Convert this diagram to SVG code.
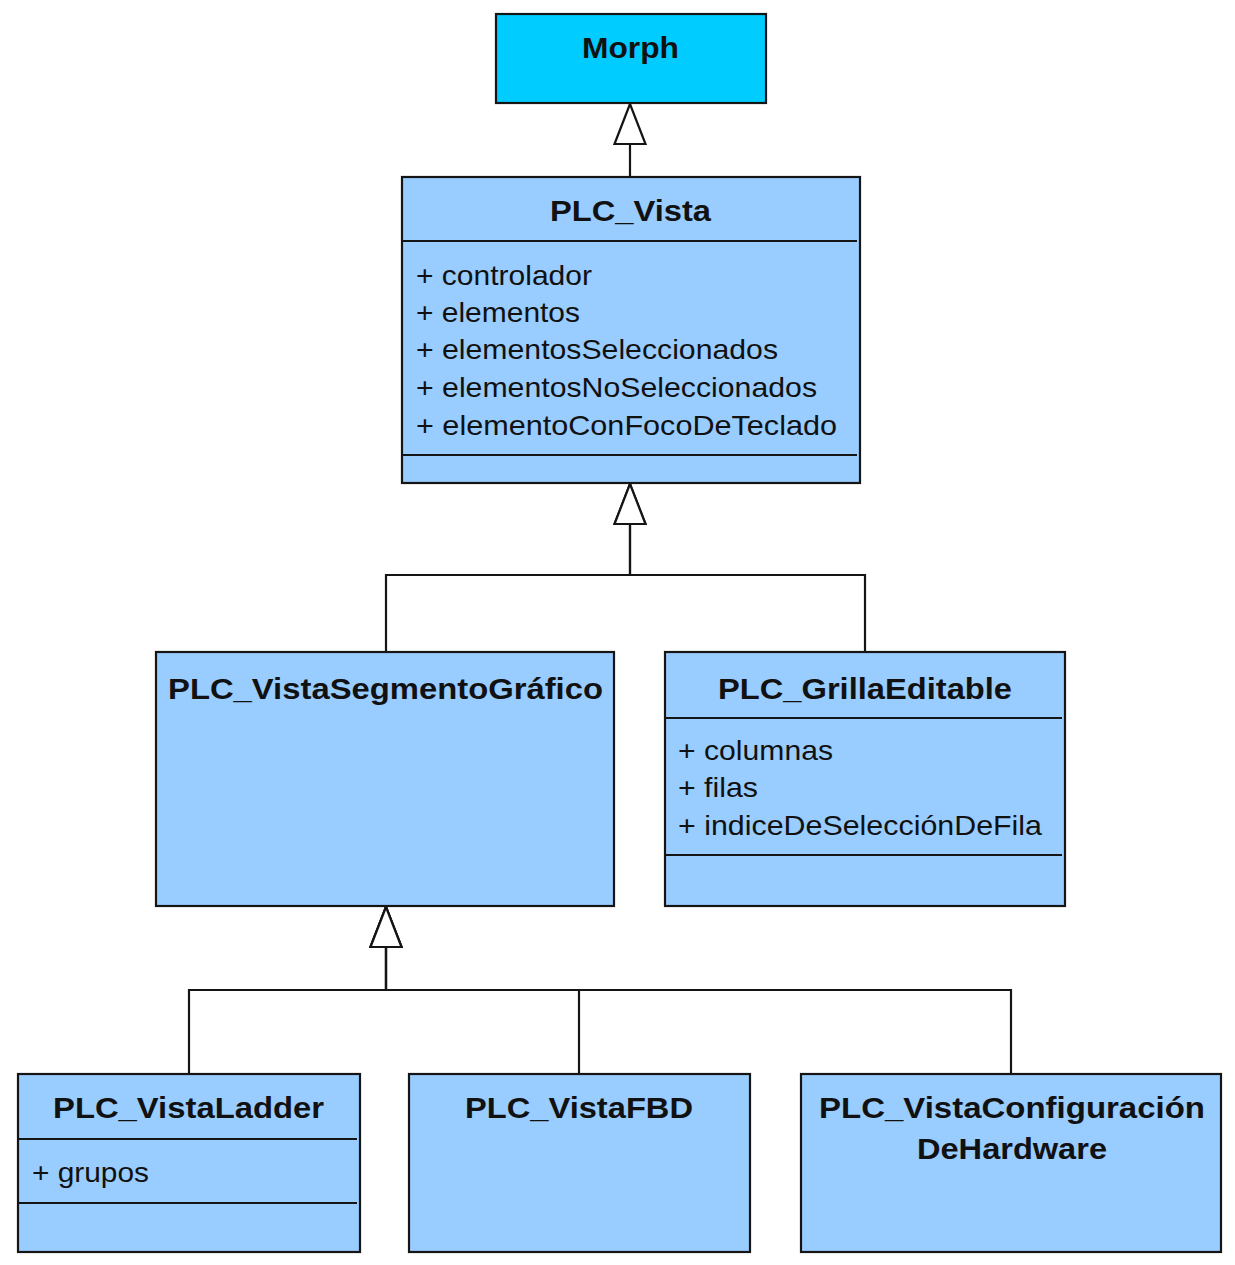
<svg xmlns="http://www.w3.org/2000/svg" width="1235" height="1265" viewBox="0 0 1235 1265">
<style>
.box{fill:#99ccff;stroke:#151515;stroke-width:2.2}
.root{fill:#00ccff;stroke:#151515;stroke-width:2.2}
.sep{stroke:#151515;stroke-width:2.2;fill:none}
.title{font-family:"Liberation Sans",Arial,Helvetica,sans-serif;font-weight:bold;font-size:29px;fill:#111}
.attr{font-family:"Liberation Sans",Arial,Helvetica,sans-serif;font-size:28px;fill:#111}
.conn{fill:none;stroke:#151515;stroke-width:2.2}
</style>
<defs>
<marker id="gen" markerUnits="userSpaceOnUse" viewBox="-43 -18 46 36" refX="0" refY="0" markerWidth="46" markerHeight="36" orient="auto">
<path d="M0,0 L-40,-15.5 L-40,15.5 Z" fill="#ffffff" stroke="#151515" stroke-width="2.2" stroke-linejoin="miter"/>
</marker>
</defs>
<rect width="1235" height="1265" fill="#ffffff"/>
<g id="connectors">
<path class="conn" d="M630,177 V104" marker-end="url(#gen)"/>
<path class="conn" d="M386,652 V575 H630 V484" marker-end="url(#gen)"/>
<path class="conn" d="M865,652 V575 H630 V484" marker-end="url(#gen)"/>
<path class="conn" d="M189,1074 V990 H386 V907" marker-end="url(#gen)"/>
<path class="conn" d="M579,1074 V990 H386 V907" marker-end="url(#gen)"/>
<path class="conn" d="M1011,1074 V990 H386 V907" marker-end="url(#gen)"/>
</g>
<g id="Morph">
<rect class="root" x="496" y="14" width="270" height="89"/>
<text class="title" x="582" y="58" textLength="97" lengthAdjust="spacingAndGlyphs">Morph</text>
</g>
<g id="PLC_Vista">
<rect class="box" x="402" y="177" width="458" height="306"/>
<line class="sep" x1="402" y1="241" x2="857" y2="241"/>
<line class="sep" x1="402" y1="455" x2="857" y2="455"/>
<text class="title" x="550" y="221" textLength="161" lengthAdjust="spacingAndGlyphs">PLC_Vista</text>
<text class="attr" x="416" y="285" textLength="176" lengthAdjust="spacingAndGlyphs">+ controlador</text>
<text class="attr" x="416" y="322" textLength="164" lengthAdjust="spacingAndGlyphs">+ elementos</text>
<text class="attr" x="416" y="359" textLength="362" lengthAdjust="spacingAndGlyphs">+ elementosSeleccionados</text>
<text class="attr" x="416" y="397" textLength="401" lengthAdjust="spacingAndGlyphs">+ elementosNoSeleccionados</text>
<text class="attr" x="416" y="435" textLength="421" lengthAdjust="spacingAndGlyphs">+ elementoConFocoDeTeclado</text>
</g>
<g id="PLC_VistaSegmentoGrafico">
<rect class="box" x="156" y="652" width="458" height="254"/>
<text class="title" x="168" y="699" textLength="435" lengthAdjust="spacingAndGlyphs">PLC_VistaSegmentoGráfico</text>
</g>
<g id="PLC_GrillaEditable">
<rect class="box" x="665" y="652" width="400" height="254"/>
<line class="sep" x1="665" y1="718" x2="1062" y2="718"/>
<line class="sep" x1="665" y1="855" x2="1062" y2="855"/>
<text class="title" x="718" y="699" textLength="294" lengthAdjust="spacingAndGlyphs">PLC_GrillaEditable</text>
<text class="attr" x="678" y="760" textLength="155" lengthAdjust="spacingAndGlyphs">+ columnas</text>
<text class="attr" x="678" y="797" textLength="80" lengthAdjust="spacingAndGlyphs">+ filas</text>
<text class="attr" x="678" y="835" textLength="364" lengthAdjust="spacingAndGlyphs">+ indiceDeSelecciónDeFila</text>
</g>
<g id="PLC_VistaLadder">
<rect class="box" x="18" y="1074" width="342" height="178"/>
<line class="sep" x1="18" y1="1139" x2="357" y2="1139"/>
<line class="sep" x1="18" y1="1203" x2="357" y2="1203"/>
<text class="title" x="53" y="1118" textLength="271" lengthAdjust="spacingAndGlyphs">PLC_VistaLadder</text>
<text class="attr" x="32" y="1182" textLength="117" lengthAdjust="spacingAndGlyphs">+ grupos</text>
</g>
<g id="PLC_VistaFBD">
<rect class="box" x="409" y="1074" width="341" height="178"/>
<text class="title" x="465" y="1118" textLength="228" lengthAdjust="spacingAndGlyphs">PLC_VistaFBD</text>
</g>
<g id="PLC_VistaConfiguracionDeHardware">
<rect class="box" x="801" y="1074" width="420" height="178"/>
<text class="title" x="819" y="1118" textLength="386" lengthAdjust="spacingAndGlyphs">PLC_VistaConfiguración</text>
<text class="title" x="917" y="1159" textLength="190" lengthAdjust="spacingAndGlyphs">DeHardware</text>
</g>
</svg>
